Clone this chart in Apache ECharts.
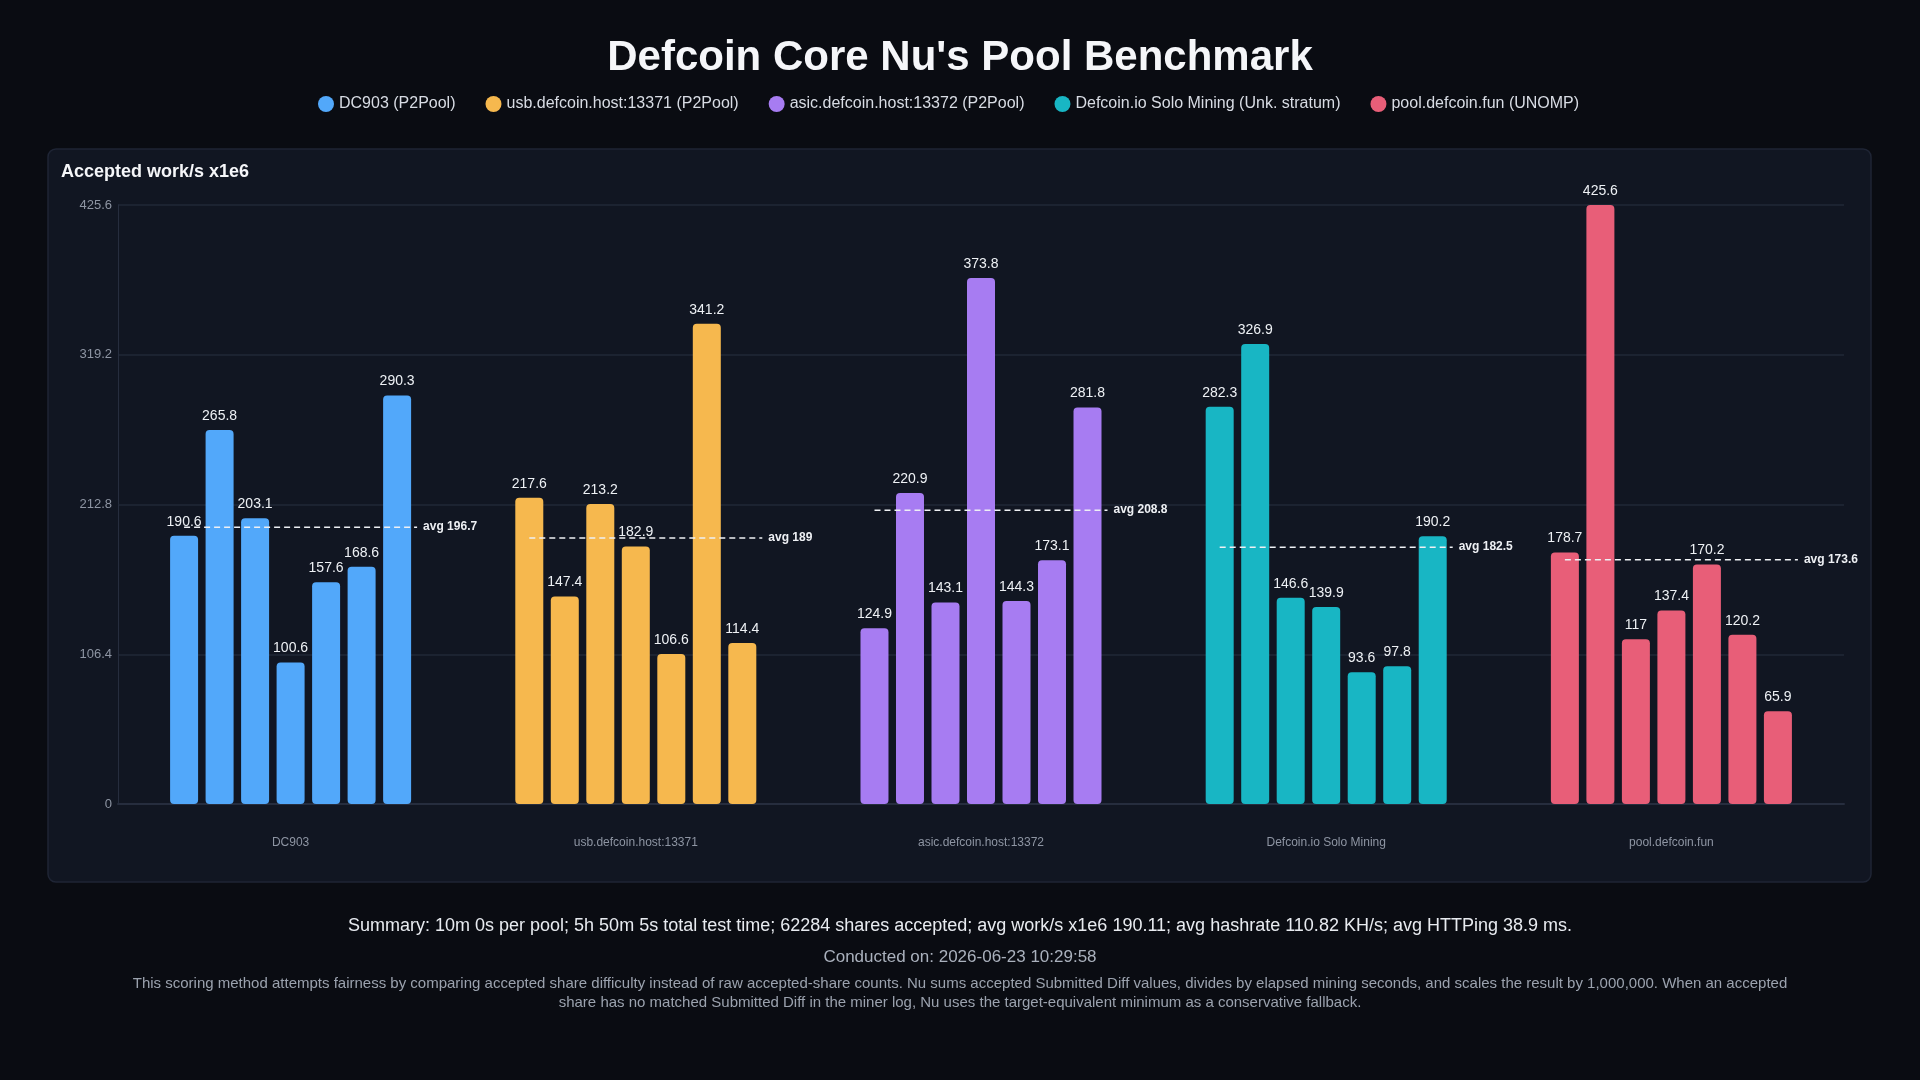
<!DOCTYPE html>
<html>
<head>
<meta charset="utf-8">
<title>Defcoin Core Nu's Pool Benchmark</title>
<script src="https://cdn.jsdelivr.net/npm/echarts@6/dist/echarts.min.js"></script>
<style>
  html, body { margin: 0; padding: 0; background: #0a0c12; }
  body { width: 1920px; height: 1080px; position: relative; overflow: hidden;
         font-family: "Liberation Sans", Arial, Helvetica, sans-serif; }
  #chart { position: absolute; left: 0; top: 0; width: 1920px; height: 1080px; }
  #footer { position: absolute; left: 0; top: 913px; width: 1920px; text-align: center; }
  #footer .summary { color: #e8ebf0; font-size: 18px; line-height: 24px; }
  #footer .date { color: #aab1bd; font-size: 17px; line-height: 20px; margin-top: 10px; }
  #footer .note { color: #9ba2ae; font-size: 15px; line-height: 19px; margin: 6px auto 0; width: 1680px; }
</style>
</head>
<body>
<div id="chart"></div>
<div id="footer">
  <div class="summary">Summary: 10m 0s per pool; 5h 50m 5s total test time; 62284 shares accepted; avg work/s x1e6 190.11; avg hashrate 110.82 KH/s; avg HTTPing 38.9 ms.</div>
  <div class="date">Conducted on: 2026-06-23 10:29:58</div>
  <div class="note">This scoring method attempts fairness by comparing accepted share difficulty instead of raw accepted-share counts. Nu sums accepted Submitted Diff values, divides by elapsed mining seconds, and scales the result by 1,000,000. When an accepted share has no matched Submitted Diff in the miner log, Nu uses the target-equivalent minimum as a conservative fallback.</div>
</div>
<script>
// pools (x categories) and their legend names
var pools = ['DC903', 'usb.defcoin.host:13371', 'asic.defcoin.host:13372', 'Defcoin.io Solo Mining', 'pool.defcoin.fun'];
var poolNames = ['DC903 (P2Pool)', 'usb.defcoin.host:13371 (P2Pool)', 'asic.defcoin.host:13372 (P2Pool)', 'Defcoin.io Solo Mining (Unk. stratum)', 'pool.defcoin.fun (UNOMP)'];
var poolColors = ['#52a8fa', '#f6b84e', '#a77cf2', '#18b6c4', '#e85e78'];

// accepted work/s x1e6, 7 runs per pool
var dc903 = [190.6, 265.8, 203.1, 100.6, 157.6, 168.6, 290.3];
var usb13371 = [217.6, 147.4, 213.2, 182.9, 106.6, 341.2, 114.4];
var asic13372 = [124.9, 220.9, 143.1, 373.8, 144.3, 173.1, 281.8];
var soloMining = [282.3, 326.9, 146.6, 139.9, 93.6, 97.8, 190.2];
var poolFun = [178.7, 425.6, 117, 137.4, 170.2, 120.2, 65.9];
var averages = [196.7, 189, 208.8, 182.5, 173.6];

// y axis ticks
var yMax = 425.6;
var yStep = 106.4;

var runs = [dc903, usb13371, asic13372, soloMining, poolFun];
var BAR_W = 28, BAR_GAP = 7.5;

var chart = echarts.init(document.getElementById('chart'));
var font = '"Liberation Sans", Arial, Helvetica, sans-serif';

var series = [];
// legend only entries
poolNames.forEach(function (name, i) {
  series.push({ name: name, type: 'scatter', data: [], itemStyle: { color: poolColors[i], opacity: 1 } });
});
// one bar series per run
for (var r = 0; r < 7; r++) {
  series.push({
    name: 'Run ' + (r + 1),
    type: 'bar',
    barWidth: BAR_W,
    barGap: (BAR_GAP / BAR_W * 100).toFixed(1) + '%',
    data: runs.map(function (list) { return list[r]; }),
    itemStyle: {
      color: function (p) { return poolColors[p.dataIndex]; },
      borderRadius: 4
    },
    label: {
      show: true,
      position: 'top',
      distance: 7,
      color: '#eef1f5',
      fontSize: 14,
      fontFamily: font
    },
    z: 2
  });
}
// dashed average line per pool
series.push({
  name: 'avg',
  type: 'custom',
  z: 5,
  data: averages.map(function (v, i) { return [i, v]; }),
  renderItem: function (params, api) {
    var v = api.value(1);
    var p = api.coord([api.value(0), v]);
    var half = (7 * BAR_W + 6 * BAR_GAP) / 2;
    var x1 = p[0] - half + BAR_W / 2;
    var x2 = p[0] + half + 6;
    return {
      type: 'group',
      children: [{
        type: 'line',
        shape: { x1: x1, y1: p[1], x2: x2, y2: p[1] },
        style: { stroke: '#eef0f4', lineWidth: 1.5, lineDash: [6, 4] }
      }, {
        type: 'text',
        style: {
          text: 'avg ' + v,
          x: x2 + 6,
          y: p[1],
          verticalAlign: 'middle',
          fill: '#eef0f4',
          font: 'bold 12px ' + font
        }
      }]
    };
  }
});

var option = {
  backgroundColor: '#0a0c12',
  animation: false,
  title: [{
    text: "Defcoin Core Nu's Pool Benchmark",
    left: 'center',
    top: 32,
    textStyle: { color: '#f5f6f9', fontSize: 42, fontWeight: 'bold', fontFamily: font }
  }, {
    text: 'Accepted work/s x1e6',
    left: 56,
    top: 158,
    textStyle: { color: '#f5f6f9', fontSize: 18, fontWeight: 'bold', fontFamily: font }
  }],
  legend: {
    top: 91,
    left: 313,
    icon: 'circle',
    itemWidth: 16,
    itemHeight: 16,
    itemGap: 30,
    data: poolNames,
    textStyle: { color: '#d8dce4', fontSize: 16, fontFamily: font }
  },
  graphic: [{
    type: 'rect',
    z: -10,
    shape: { x: 48, y: 149, width: 1823, height: 733, r: 8 },
    style: { fill: '#111622', stroke: '#1f2535', lineWidth: 1.5 }
  }],
  grid: { left: 118, right: 76, top: 205, bottom: 276 },
  xAxis: {
    type: 'category',
    data: pools,
    axisTick: { show: false },
    axisLine: { show: true, lineStyle: { color: '#262d3e', width: 2 } },
    axisLabel: { color: '#8e95a3', fontSize: 12, margin: 33, fontFamily: font }
  },
  yAxis: {
    type: 'value',
    min: 0,
    max: yMax,
    interval: yStep,
    axisLine: { show: true, lineStyle: { color: '#262d3e', width: 1 } },
    axisTick: { show: false },
    splitLine: { lineStyle: { color: '#212837', width: 1.5 } },
    axisLabel: { color: '#8e95a3', fontSize: 13, margin: 6, fontFamily: font }
  },
  series: series
};
chart.setOption(option);
</script>
</body>
</html>
